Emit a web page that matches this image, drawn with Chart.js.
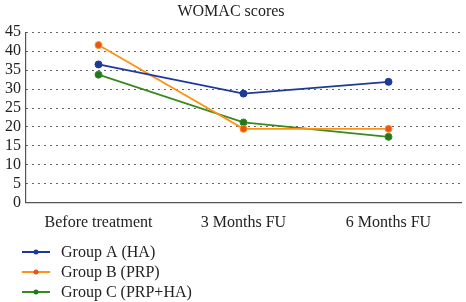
<!DOCTYPE html>
<html>
<head>
<meta charset="utf-8">
<script src="https://cdn.jsdelivr.net/npm/chart.js@4"></script>
<style>
  html, body { margin: 0; padding: 0; background: #fff; }
  #wrap { width: 466px; height: 302px; }
</style>
</head>
<body>
<div id="wrap"><canvas id="womacChart"></canvas></div>
<script>
const timepoints = ["Before treatment", "3 Months FU", "6 Months FU"];
const groupA = [36.5, 28.8, 31.9];
const groupB = [41.6, 19.5, 19.5];
const groupC = [33.8, 21.2, 17.4];
const yTicks = [0, 5, 10, 15, 20, 25, 30, 35, 40, 45];

const serif = "'Liberation Serif', 'DejaVu Serif', serif";

// Vertical legend drawn under the plot, like the original figure
const stackedLegend = {
    id: 'stackedLegend',
    afterDraw(chart) {
        const ctx = chart.ctx;
        ctx.save();
        ctx.font = "16px " + serif;
        ctx.textBaseline = 'middle';
        chart.data.datasets.forEach((ds, i) => {
            const y = 252 + i * 20;
            ctx.strokeStyle = ds.borderColor;
            ctx.lineWidth = 2;
            ctx.beginPath();
            ctx.moveTo(22, y);
            ctx.lineTo(50, y);
            ctx.stroke();
            ctx.fillStyle = ds.pointBackgroundColor;
            ctx.beginPath();
            ctx.arc(36, y, 2.5, 0, Math.PI * 2);
            ctx.fill();
            ctx.fillStyle = '#222';
            ctx.fillText(ds.label, 61, y + 1);
        });
        ctx.restore();
    }
};

const initChart = () => {
    const ctx = document.getElementById('womacChart').getContext('2d');
    new Chart(ctx, {
        type: 'line',
        data: {
            labels: timepoints,
            datasets: [{
                label: 'Group A (HA)',
                data: groupA,
                borderColor: '#1c3a9a',
                pointBackgroundColor: '#1c3a9a',
                pointBorderColor: '#1c3a9a'
            }, {
                label: 'Group B (PRP)',
                data: groupB,
                borderColor: '#ff9212',
                pointBackgroundColor: '#e8531c',
                pointBorderColor: '#ff9212'
            }, {
                label: 'Group C (PRP+HA)',
                data: groupC,
                borderColor: '#3a8a22',
                pointBackgroundColor: '#1f7a1a',
                pointBorderColor: '#3a8a22'
            }]
        },
        options: {
            responsive: true,
            maintainAspectRatio: false,
            animation: false,
            elements: {
                line: { borderWidth: 1.8, tension: 0 },
                point: { radius: 3.5, borderWidth: 1 }
            },
            layout: { padding: { top: 0, right: 4, bottom: 68, left: 0 } },
            plugins: {
                legend: { display: false },
                tooltip: { enabled: false },
                title: {
                    display: true,
                    text: 'WOMAC scores',
                    color: '#222',
                    font: { family: serif, size: 16, weight: 'normal' },
                    padding: { top: 2, bottom: 11 }
                }
            },
            scales: {
                x: {
                    offset: true,
                    grid: { display: false },
                    border: { display: true, color: '#555', width: 1.2 },
                    ticks: { color: '#222', font: { family: serif, size: 16 }, padding: 2 }
                },
                y: {
                    min: 0,
                    max: 45,
                    afterBuildTicks: (axis) => { axis.ticks = yTicks.map(v => ({ value: v })); },
                    grid: { color: '#333', lineWidth: 1, drawTicks: false },
                    border: { display: true, color: '#555', width: 1.2, dash: [1.5, 4.5] },
                    ticks: { color: '#222', font: { family: serif, size: 16 }, padding: 5, autoSkip: false }
                }
            }
        },
        plugins: [stackedLegend]
    });
};

document.addEventListener('DOMContentLoaded', initChart);
</script>
</body>
</html>
